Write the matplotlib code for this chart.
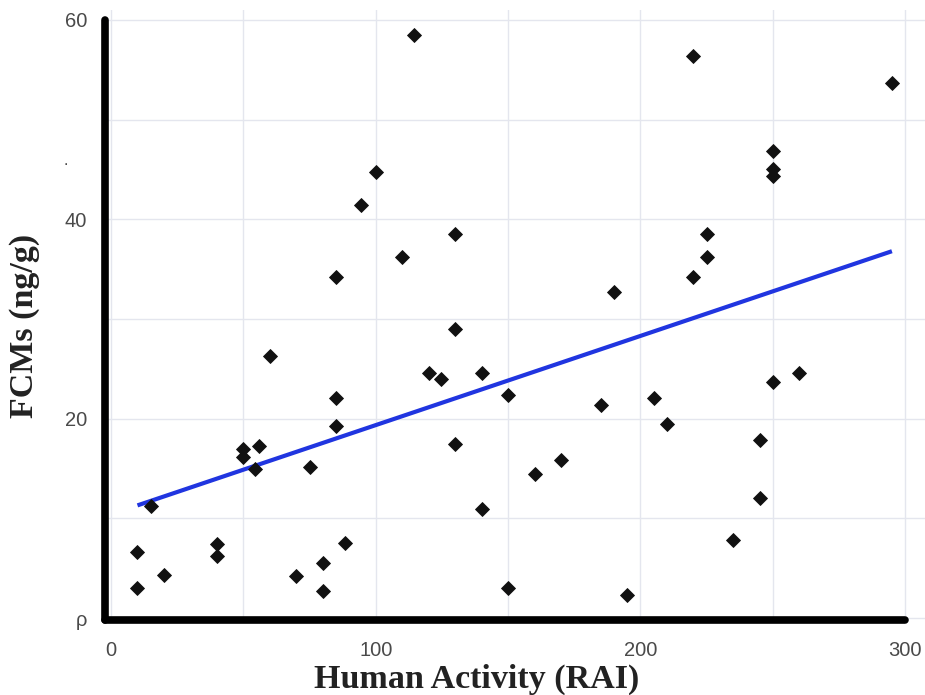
import matplotlib
matplotlib.use("Agg")
import matplotlib.pyplot as plt
import numpy as np

# Data
human_activity = [10, 10, 15, 20, 40, 40, 50, 50, 56, 54.5, 60, 70, 75, 80, 80,
                  85, 85, 85, 88.5, 94.5, 100, 110, 114.5, 120, 124.5, 130, 130, 130,
                  140, 140, 150, 150, 160, 170, 185, 190, 195, 205, 210, 220, 220,
                  225, 225, 235, 245, 245, 250, 250, 250, 250, 260, 295]
fcms = [3.0, 6.6, 11.2, 4.3, 7.4, 6.2, 17.0, 16.2, 17.3, 14.9, 26.3, 4.2, 15.2, 5.5, 2.7,
        22.1, 19.3, 34.2, 7.5, 41.4, 44.7, 36.2, 58.5, 24.6, 24.0, 38.5, 29.0, 17.5,
        24.6, 10.9, 22.4, 3.0, 14.4, 15.9, 21.4, 32.7, 2.3, 22.1, 19.5, 34.2, 56.4,
        38.5, 36.2, 7.8, 17.9, 12.0, 46.9, 45.0, 44.3, 23.7, 24.6, 53.7]

fit_x = [10, 295]
fit_y = [11.3, 36.8]

x_ticks = [0, 100, 200, 300]
x_tick_labels = ["0", "100", "200", "300"]
y_ticks = [0, 20, 40, 60]
y_tick_labels = ["\u03c1", "20", "40", "60"]

fig = plt.figure(figsize=(9.25, 6.95), dpi=100)
ax = fig.add_axes([105 / 925, 75 / 695, 820 / 925, 610 / 695])

ax.set_xlim(-2.27, 307.5)
ax.set_ylim(-0.2, 61.0)

ax.set_xticks(x_ticks)
ax.set_xticklabels(x_tick_labels)
ax.set_xticks([50, 150, 250], minor=True)
ax.set_yticks(y_ticks)
ax.set_yticklabels(y_tick_labels)
ax.set_yticks([10, 30, 50], minor=True)

ax.grid(True, which="both", color="#e4e6ee", linewidth=1.0, zorder=0)
ax.set_axisbelow(True)

ax.tick_params(axis="both", which="both", length=0)
ax.tick_params(axis="x", pad=15, labelsize=14.5, labelcolor="#4a4a4a")
ax.tick_params(axis="y", pad=13, labelsize=14.5, labelcolor="#4a4a4a")
for lab in ax.get_xticklabels() + ax.get_yticklabels():
    lab.set_fontfamily("Liberation Sans")

for s in ["top", "right"]:
    ax.spines[s].set_visible(False)
ax.spines["left"].set_bounds(-0.2, 60)
ax.spines["bottom"].set_bounds(-2.27, 300)
for s in ["left", "bottom"]:
    ax.spines[s].set_linewidth(5.5)
    ax.spines[s].set_color("black")
    ax.spines[s].set_capstyle("round")

ax.plot(fit_x, fit_y, color="#2035e0", linewidth=3.0, solid_capstyle="butt", zorder=3)
ax.plot(human_activity, fcms, linestyle="none", marker="D", markersize=6.8,
        markerfacecolor="#111111", markeredgecolor="#111111", markeredgewidth=0.6,
        zorder=4)

fig.text(477 / 925, 7 / 695, "Human Activity (RAI)", ha="center", va="baseline",
         fontsize=24.5, fontweight="bold", family="Liberation Serif", color="#222222")
fig.text(33 / 925, (695 - 326) / 695, "FCMs (ng/g)", ha="center", va="baseline",
         rotation=90, rotation_mode="anchor",
         fontsize=24.5, fontweight="bold", family="Liberation Serif", color="#222222")
fig.text(66 / 925, 1 - 165 / 695, ".", ha="center", va="baseline", fontsize=10,
         color="#333333")

fig.savefig("out.png", dpi=100)
